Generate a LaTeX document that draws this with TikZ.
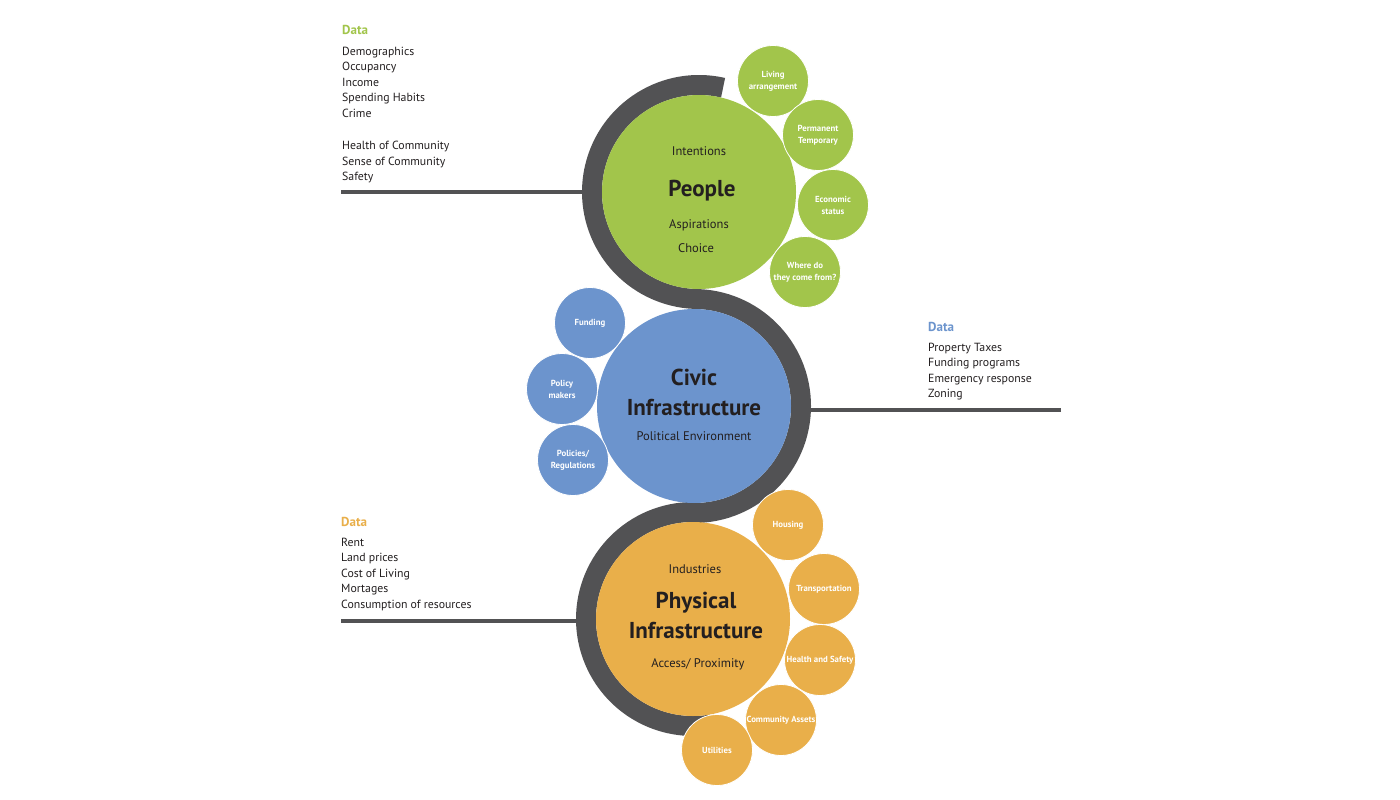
\documentclass[tikz,border=0pt]{standalone}
\usepackage{fontspec}
\setmainfont{PT Sans}
\usetikzlibrary{positioning, calc}
\definecolor{pgreen}{HTML}{A2C54B}
\definecolor{cblue}{HTML}{6C94CD}
\definecolor{forange}{HTML}{E9AF4A}
\definecolor{ringgray}{HTML}{525254}
\definecolor{ink}{HTML}{231F20}
\tikzset{
  big/.style  = {circle, minimum size=194pt, inner sep=0pt},
  sub/.style  = {circle, minimum size=71pt, inner sep=0pt, draw=white, line width=0.8pt,
                 text=white, align=center, font=\fontsize{8.8}{12}\selectfont\bfseries},
  ttl/.style  = {font=\fontsize{23}{30}\selectfont\bfseries, text=ink, inner sep=0pt,
                 align=center},
  txt/.style  = {font=\fontsize{12.5}{15.5}\selectfont, text=ink, inner sep=0pt},
  hd/.style   = {font=\fontsize{13}{15.5}\selectfont\bfseries, inner sep=0pt, anchor=base west},
  lst/.style  = {font=\fontsize{11.8}{15.5}\selectfont, text=ink, inner sep=0pt,
                 align=left, anchor=base west},
  rule/.style = {ringgray, line width=4pt},
  ring/.style = {ringgray, line width=20pt},
}

\begin{document}
\begin{tikzpicture}[x=1pt, y=1pt]
  \useasboundingbox[fill=white] (0,0) rectangle (1400,-800);
  \coordinate (pc) at (699,-192);
  \coordinate (cc) at (694,-406);
  \coordinate (fc) at (693,-619);

  % ---- data rules ----
  \coordinate (pdata) at (341,-192);
  \coordinate (cdata) at (1061,-410);
  \coordinate (fdata) at (341,-621);
  \draw[rule] (pdata) -- (pc |- pdata);
  \draw[rule] (cdata) -- (cc |- cdata);
  \draw[rule] (fdata) -- (fc |- fdata);

  % ---- the band ----
  \draw[ring] ($(pc)+(77:107)$) arc[start angle=77, end angle=270, radius=107]
    -- ($(cc)+(90:107)$) arc[start angle=90, end angle=-90, radius=107]
    -- ($(fc)+(90:107)$) arc[start angle=90, end angle=280, radius=107];

  % ---- people ----
  \node[big, fill=pgreen] (people) at (pc) {};
  \node[txt] (pint) at ([yshift=41pt]people.center) {Intentions};
  \node[ttl] (pttl) at ([xshift=3pt, yshift=1pt]people.center) {People};
  \node[txt] (pasp) at ([yshift=-33pt]people.center) {Aspirations};
  \node[txt] (pcho) at ([xshift=-3pt, yshift=-56pt]people.center) {Choice};
  \node[sub, fill=pgreen] (living) at (773,-81) {Living\\arrangement};
  \node[sub, fill=pgreen] (perm) at (818,-135) {Permanent\\Temporary};
  \node[sub, fill=pgreen] (econ) at (833,-205) {Economic\\status};
  \node[sub, fill=pgreen] (origin) at (805,-272) {Where do\\they come from?};

  % ---- civic ----
  \node[big, fill=cblue] (civic) at (cc) {};
  \node[ttl] (cttl) at ([yshift=14pt]civic.center) {Civic\\Infrastructure};
  \node[txt] (cpol) at ([yshift=-30pt]civic.center) {Political Environment};
  \node[sub, fill=cblue] (funding) at (590,-323) {Funding};
  \node[sub, fill=cblue] (polmk) at (562,-389) {Policy\\makers};
  \node[sub, fill=cblue] (polreg) at (573,-460) {Policies/\\Regulations};

  % ---- physical ----
  \node[big, fill=forange] (physical) at (fc) {};
  \node[txt] (find) at ([xshift=2pt, yshift=50pt]physical.center) {Industries};
  \node[ttl] (fttl) at ([xshift=3pt, yshift=4pt]physical.center) {Physical\\Infrastructure};
  \node[txt] (facc) at ([xshift=5pt, yshift=-45pt]physical.center) {Access/ Proximity};
  \node[sub, fill=forange] (housing) at (788,-525) {Housing};
  \node[sub, fill=forange] (transp) at (824,-589) {Transportation};
  \node[sub, fill=forange] (health) at (820,-660) {Health and Safety};
  \node[sub, fill=forange] (assets) at (781,-720) {Community Assets};
  \node[sub, fill=forange] (utils) at (717,-750) {Utilities};

  % ---- data lists ----
  \node[hd, text=pgreen] (pdh) at (342,-35) {Data};
  \node[lst] (pdl) at (342,-180.5) {Demographics\\Occupancy\\Income\\Spending Habits\\Crime\\[17pt]Health of Community\\Sense of Community\\Safety};
  \node[hd, text=cblue] (cdh) at (928,-331) {Data};
  \node[lst] (cdl) at (928,-397.5) {Property Taxes\\Funding programs\\Emergency response\\Zoning};
  \node[hd, text=forange] (fdh) at (341,-526) {Data};
  \node[lst] (fdl) at (341,-608) {Rent\\Land prices\\Cost of Living\\Mortages\\Consumption of resources};
\end{tikzpicture}
\end{document}
